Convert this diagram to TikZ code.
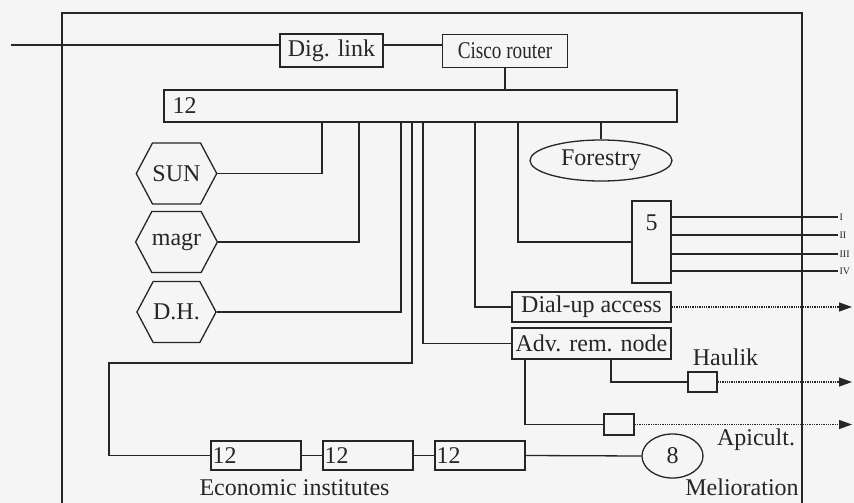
\documentclass[tikz,border=0pt]{standalone}
\usepackage{fontspec}
\setmainfont{Liberation Serif}
\newfontfamily\narrowserif[FakeStretch=0.8]{Liberation Serif}
\usetikzlibrary{shapes.geometric,shapes.symbols,arrows.meta}

\tikzset{every picture/.style={line width=1.3pt}}
\tikzset{
  big/.style={font=\rmfamily\fontsize{24}{28}\selectfont},
  box/.style={draw, rectangle, inner sep=0pt, big},
  hexa/.style={draw, signal, signal to=west and east, signal pointer angle=124,
    inner sep=0pt, minimum width=79pt, minimum height=61pt, big},
  oval/.style={draw, ellipse, inner sep=0pt, big},
  tag/.style={inner sep=0pt, big},
  roman/.style={inner sep=1pt, font=\rmfamily\fontsize{10}{11}\selectfont},
  remote/.style={densely dotted, -{Triangle[length=13pt,width=9pt]}},
}

\begin{document}
\begin{tikzpicture}[x=1pt,y=1pt,yscale=-1,xscale=1,color=black!85]
\fill[black!4] (0,0) rectangle (854,503);
\useasboundingbox (0,0) rectangle (854,503);

%Shape: Frame
\draw (62,506) |- (802,13) -- (802,506);

%Shape: Rectangle
\node[box, minimum width=103pt, minimum height=33pt] (dig) at (331.5,50.5) {Dig. link};
%Shape: Rectangle
\node[box, minimum width=125pt, minimum height=33pt,
  font=\narrowserif\fontsize{24}{28}\selectfont] (cisco) at (505,51) {Cisco router};
%Shape: Rectangle
\node[box, minimum height=32pt, text width=496pt, inner xsep=8.5pt, align=left] (hub) at (420.5,106) {12};

%Shape: Hexagon
\node[hexa] (sun) at (176.5,173.5) {SUN};
%Shape: Hexagon
\node[hexa] (magr) at (176.5,242) {magr};
%Shape: Hexagon
\node[hexa] (dh) at (176.5,312) {D.H.};

%Shape: Ellipse
\node[oval, minimum width=142pt, minimum height=41pt] (forestry) at (601,160.5) {Forestry};
%Shape: Rectangle
\node[box, minimum width=39pt, text height=29pt, text depth=53pt] (five) at (651.5,242) {5};
%Shape: Rectangle
\node[box, minimum width=159pt, minimum height=30pt] (dialup) at (591.5,307) {Dial-up access};
%Shape: Rectangle
\node[box, minimum width=159pt, minimum height=31pt] (adv) at (591.5,343.5) {Adv. rem. node};
%Shape: Rectangle
\node[box, minimum width=29pt, minimum height=20pt] (haulik) at (702.5,382) {};
%Shape: Rectangle
\node[box, minimum width=30pt, minimum height=21pt] (rembox) at (619,424.5) {};

%Shape: Rectangle
\node[box, minimum height=29pt, text width=87pt, inner xsep=1.5pt, align=left] (econa) at (256,455.5) {12};
%Shape: Rectangle
\node[box, minimum height=29pt, text width=87pt, inner xsep=1.5pt, align=left] (econb) at (368,455.5) {12};
%Shape: Rectangle
\node[box, minimum height=29pt, text width=87pt, inner xsep=1.5pt, align=left] (econc) at (480,455.5) {12};
%Shape: Ellipse
\node[oval, minimum width=61pt, minimum height=44pt] (apic) at (672.5,456) {8};

% Text Node
\node[tag, anchor=base] (haulikname) at (725.5,365) {Haulik};
% Text Node
\node[tag, anchor=base] (apicname) at (756,445) {Apicult.};
% Text Node
\node[tag, anchor=base] (melio) at (742,495) {Melioration};
% Text Node
\node[tag, anchor=base] (econname) at (294.5,495) {Economic institutes};

%Lines: digital link
\coordinate (ext) at (11,45);
\draw (ext) -- (ext -| dig.west);
\draw (dig.east |- ext) -- (cisco.west |- ext);
\draw (cisco.south) -- (cisco.south |- hub.north);

%Lines: hub taps
\draw (hub.south -| 322,0) |- (sun.east);
\draw (hub.south -| 359,0) |- (magr.east);
\draw (hub.south -| 401,0) |- (dh.east);
\coordinate (econturn) at (109,363);
\draw (hub.south -| 412,0) |- (econturn) |- (econa.west);
\draw (hub.south -| 423,0) |- (adv.west);
\draw (hub.south -| 475,0) |- (dialup.west);
\draw (hub.south -| 518,0) |- (five.west);
\draw (hub.south -| forestry.north) -- (forestry.north);

%Lines: five outputs
\draw (five.east |- 0,217) -- (838,217) node[roman, right] (r1) {I};
\draw (five.east |- 0,235) -- (838,235) node[roman, right] (r2) {II};
\draw (five.east |- 0,254) -- (838,254) node[roman, right] (r3) {III};
\draw (five.east |- 0,271) -- (838,271) node[roman, right] (r4) {IV};

%Lines: remote node
\draw (adv.south -| 611,0) |- (haulik.west);
\draw (adv.south -| 525,0) |- (rembox.west);
\draw[remote] (dialup.east) -- (dialup.east -| 852,0);
\draw[remote] (haulik.east) -- (haulik.east -| 852,0);
\draw[remote] (rembox.east) -- (rembox.east -| 852,0);

%Lines: economic institutes
\draw (econa.east) -- (econb.west);
\draw (econb.east) -- (econc.west);
\draw (econc.east) -- (apic.west);

\end{tikzpicture}
\end{document}
